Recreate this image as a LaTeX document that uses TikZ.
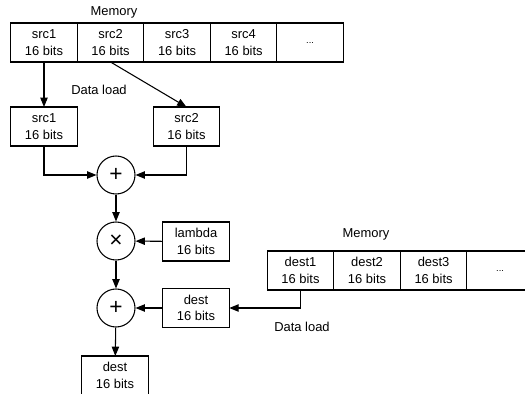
\documentclass[tikz,border=0pt]{standalone}
\usepackage{fontspec}
\setmainfont{Liberation Sans}
\usetikzlibrary{arrows.meta,positioning}

\begin{document}
\begin{tikzpicture}[x=0.75pt,y=-0.75pt,
  every node/.style={font=\fontsize{9.7}{12.5}\selectfont},
  cell/.style={draw,line width=0.8pt,minimum width=49.9pt,minimum height=29.25pt,
    inner sep=0pt,outer sep=0pt,align=center},
  op/.style={draw,circle,line width=0.8pt,minimum size=28.5pt,inner sep=0pt,
    font=\fontsize{17}{17}\selectfont},
  arr/.style={line width=0.8pt,-{Triangle[length=7pt,width=5.5pt]}}]
\useasboundingbox (0,0) rectangle (525,393);

\node at (114,12) (memA) {Memory};
\node[cell] at (44,42.5) (s1) {src1\\16 bits};
\node[cell,right=0pt of s1] (s2) {src2\\16 bits};
\node[cell,right=0pt of s2] (s3) {src3\\16 bits};
\node[cell,right=0pt of s3] (s4) {src4\\16 bits};
\node[cell,right=0pt of s4,font=\fontsize{7}{8}\selectfont] (s5) {...};

\node[cell] at (44,126.5) (r1) {src1\\16 bits};
\node[cell] at (186.5,126.5) (r2) {src2\\16 bits};
\node at (99,90) (loadA) {Data load};

\node[op] at (116,175) (add1) {+};
\node[op] at (116,241) (mul) {×};
\node[cell] at (196,241.5) (lam) {lambda\\16 bits};
\node[op] at (116,308) (add2) {+};
\node[cell] at (196,308) (rd) {dest\\16 bits};
\node[cell] at (115,375.5) (out) {dest\\16 bits};

\node at (366,234) (memB) {Memory};
\node[cell] at (300.5,270.5) (d1) {dest1\\16 bits};
\node[cell,right=0pt of d1] (d2) {dest2\\16 bits};
\node[cell,right=0pt of d2] (d3) {dest3\\16 bits};
\node[cell,right=0pt of d3,font=\fontsize{7}{8}\selectfont] (d4) {...};
\node at (302,327) (loadB) {Data load};

\draw[arr] (s1.south) -- (r1.north);
\draw[arr] (s2.south) -- (r2.north);
\draw[arr] (r1.south) |- (add1.west);
\draw[arr] (r2.south) |- (add1.east);
\draw[arr] (add1) -- (mul);
\draw[arr] (lam) -- (mul);
\draw[arr] (mul) -- (add2);
\draw[arr] (rd) -- (add2);
\draw[arr] (d1.south) |- (rd.east);
\draw[arr] (add2) -- (out);
\end{tikzpicture}
\end{document}
